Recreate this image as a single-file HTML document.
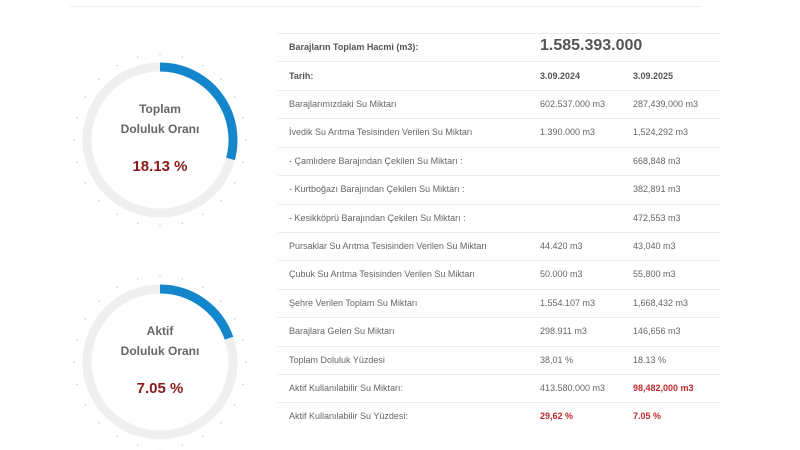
<!DOCTYPE html>
<html><head><meta charset="utf-8"><style>
body{margin:0;width:800px;height:450px;background:#fff;font-family:"Liberation Sans",sans-serif;position:relative;overflow:hidden}
.t{position:absolute;font-size:9px;color:#666;white-space:nowrap}
.b{font-weight:bold;color:#555}
.line{position:absolute;left:278px;width:442px;height:1px;background:#ececec}
</style></head><body>
<div style="position:absolute;left:70px;top:6px;width:632px;height:1px;background:#eee"></div>
<svg width="800" height="450" style="position:absolute;left:0;top:0">
<g fill="none" stroke-width="9">
<circle cx="160" cy="140" r="73" stroke="#efefef"/>
<path d="M160 67 A73 73 0 0 1 230.5 158.9" stroke="#1487cc"/>
<circle cx="160" cy="362" r="73" stroke="#efefef"/>
<path d="M160 289 A73 73 0 0 1 229 338.2" stroke="#1487cc"/>
</g>
<g fill="#ccc" id="tk"></g>
<text x="160" y="113" text-anchor="middle" font-size="12" font-weight="bold" fill="#666">Toplam</text>
<text x="160" y="133" text-anchor="middle" font-size="12" font-weight="bold" fill="#666">Doluluk Oranı</text>
<text x="160" y="171" text-anchor="middle" font-size="15" font-weight="bold" fill="#8b1a1a">18.13 %</text>
<text x="160" y="335" text-anchor="middle" font-size="12" font-weight="bold" fill="#666">Aktif</text>
<text x="160" y="355" text-anchor="middle" font-size="12" font-weight="bold" fill="#666">Doluluk Oranı</text>
<text x="160" y="393" text-anchor="middle" font-size="15" font-weight="bold" fill="#8b1a1a">7.05 %</text>
</svg>
<script>
var g=document.getElementById('tk'),s='';
[[160,140],[160,362]].forEach(function(c){for(var i=0;i<24;i++){var a=i*Math.PI/12;s+='<circle cx="'+(c[0]+86*Math.sin(a)).toFixed(1)+'" cy="'+(c[1]-86*Math.cos(a)).toFixed(1)+'" r="0.8"/>';}});
g.innerHTML=s;
</script>
<div class="line" style="top:33px"></div>
<div class="t b" style="left:289px;top:42px">Barajların Toplam Hacmi (m3):</div>
<div class="t b" style="left:540px;top:37px;font-size:16px;color:#555">1.585.393.000</div>
<div class="line" style="top:61px"></div>
<div class="t b" style="left:289px;top:71px">Tarih:</div>
<div class="t b" style="left:540px;top:71px">3.09.2024</div>
<div class="t b" style="left:633px;top:71px">3.09.2025</div>
<div id="rows"></div>
<script>
var r=[["Barajlarımızdaki Su Miktarı","602.537.000 m3","287,439,000 m3"],
["İvedik Su Arıtma Tesisinden Verilen Su Miktarı","1.390.000 m3","1,524,292 m3"],
["- Çamlıdere Barajından Çekilen Su Miktarı :","","668,848 m3"],
["- Kurtboğazı Barajından Çekilen Su Miktarı :","","382,891 m3"],
["- Kesikköprü Barajından Çekilen Su Miktarı :","","472,553 m3"],
["Pursaklar Su Arıtma Tesisinden Verilen Su Miktarı","44.420 m3","43,040 m3"],
["Çubuk Su Arıtma Tesisinden Verilen Su Miktarı","50.000 m3","55,800 m3"],
["Şehre Verilen Toplam Su Miktarı","1.554.107 m3","1,668,432 m3"],
["Barajlara Gelen Su Miktarı","298.911 m3","146,656 m3"],
["Toplam Doluluk Yüzdesi","38,01 %","18.13 %"],
["Aktif Kullanılabilir Su Miktarı:","413.580.000 m3","98,482,000 m3"],
["Aktif Kullanılabilir Su Yüzdesi:","29,62 %","7.05 %"]],h='';
r.forEach(function(x,i){var y=90+i*28.4;h+='<div class="line" style="top:'+y.toFixed(0)+'px"></div>';
var ty=(y+9).toFixed(0);var red=i==11?'color:#c0282d;font-weight:bold':'';var red3=i>=10?'color:#c0282d;font-weight:bold':'';
h+='<div class="t" style="left:289px;top:'+ty+'px">'+x[0]+'</div><div class="t" style="left:540px;top:'+ty+'px;'+red+'">'+x[1]+'</div><div class="t" style="left:633px;top:'+ty+'px;'+red3+'">'+x[2]+'</div>';});
document.getElementById('rows').innerHTML=h;
</script>
</body></html>
